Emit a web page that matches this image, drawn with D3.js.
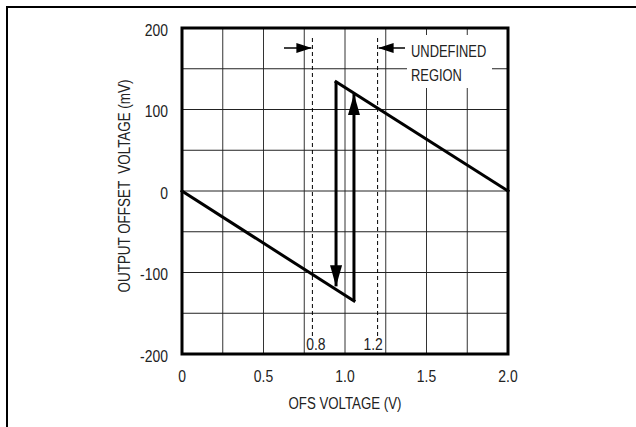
<!DOCTYPE html>
<html>
<head>
<meta charset="utf-8">
<script src="https://cdn.jsdelivr.net/npm/d3@7"></script>
<style>
  body { margin: 0; background: #fff; }
  text { font-family: "Liberation Sans", Arial, sans-serif; fill: #222; font-size: 17px; }
</style>
</head>
<body>
<svg width="636" height="427"></svg>
<script>
// data
let xTicks = [0, 0.5, 1.0, 1.5, 2.0]
let yTicks = [-200, -100, 0, 100, 200]
let xGrid = [0.25, 0.5, 0.75, 1.0, 1.25, 1.5, 1.75]
let yGrid = [-150, -100, -50, 0, 50, 100, 150]
let lowerBranch = [[0, 0], [1.055, -135]]
let upperBranch = [[0.945, 134], [2.0, 0]]
let riseLine = [[1.055, -135], [1.055, 119]]
let fallLine = [[0.945, 134], [0.945, -117]]
let limits = [0.8, 1.2]
let limitLabels = ['0.8', '1.2']

let svg = d3.select('svg')

let plotLeft = 182, plotRight = 508, plotTop = 28, plotBottom = 354

let xScale = d3.scaleLinear().domain([0, 2]).range([plotLeft, plotRight])
let yScale = d3.scaleLinear().domain([-200, 200]).range([plotBottom, plotTop])

// narrow text: no condensed face installed, so squeeze Liberation Sans
let label = (parent, str, x, y, anchor, sx, rot) => {
    return parent.append('text')
       .text(str)
       .attr('text-anchor', anchor)
       .attr('transform', 'translate(' + x + ',' + y + ')' + (rot ? ' rotate(' + rot + ')' : '') + ' scale(' + sx + ',1)')
       .style('white-space', 'pre')
}

// outer frame (top and left edges only visible)
svg.append('path')
   .attr('d', 'M7,427 L7,7 L636,7')
   .attr('fill', 'none')
   .attr('stroke', '#000')
   .attr('stroke-width', 2)

// grid
svg.selectAll('.vgrid')
   .data(xGrid)
   .enter()
   .append('line')
   .attr('x1', d => xScale(d)).attr('x2', d => xScale(d))
   .attr('y1', plotTop).attr('y2', plotBottom)
   .attr('stroke', '#333')
   .attr('stroke-width', 1)

svg.selectAll('.hgrid')
   .data(yGrid)
   .enter()
   .append('line')
   .attr('x1', plotLeft).attr('x2', plotRight)
   .attr('y1', d => yScale(d)).attr('y2', d => yScale(d))
   .attr('stroke', '#222')
   .attr('stroke-width', 1)

// white box behind the region note
svg.append('rect')
   .attr('x', 407).attr('y', 35)
   .attr('width', 85).attr('height', 53)
   .attr('fill', '#fff')

// dashed limits
svg.selectAll('.limit')
   .data(limits)
   .enter()
   .append('line')
   .attr('x1', d => xScale(d)).attr('x2', d => xScale(d))
   .attr('y1', plotTop + 10).attr('y2', plotBottom - 16)
   .attr('stroke', '#000')
   .attr('stroke-width', 1)
   .attr('stroke-dasharray', '4,3')

label(svg, limitLabels[0], xScale(0.75) + 2, plotBottom - 4, 'start', 0.82)
label(svg, limitLabels[1], xScale(1.25) - 3, plotBottom - 4, 'end', 0.82)

// arrowhead markers
let defs = svg.append('defs')
defs.append('marker')
    .attr('id', 'small')
    .attr('viewBox', '0 0 15 10')
    .attr('refX', 15).attr('refY', 5)
    .attr('markerWidth', 15).attr('markerHeight', 10)
    .attr('markerUnits', 'userSpaceOnUse')
    .attr('orient', 'auto')
    .append('path')
    .attr('d', 'M0,0 L15,5 L0,10 Z')
    .attr('fill', '#000')

defs.append('marker')
    .attr('id', 'big')
    .attr('viewBox', '0 0 21 12')
    .attr('refX', 21).attr('refY', 6)
    .attr('markerWidth', 21).attr('markerHeight', 12)
    .attr('markerUnits', 'userSpaceOnUse')
    .attr('orient', 'auto')
    .append('path')
    .attr('d', 'M0,0 L21,6 L0,12 Z')
    .attr('fill', '#000')

// undefined region arrows
svg.append('line')
   .attr('x1', 284).attr('x2', xScale(limits[0]) - 1)
   .attr('y1', 48).attr('y2', 48)
   .attr('stroke', '#000').attr('stroke-width', 1.5)
   .attr('marker-end', 'url(#small)')

svg.append('line')
   .attr('x1', 405).attr('x2', xScale(limits[1]) + 1)
   .attr('y1', 48).attr('y2', 48)
   .attr('stroke', '#000').attr('stroke-width', 1.5)
   .attr('marker-end', 'url(#small)')

label(svg, 'UNDEFINED', 411, 57, 'start', 0.76)
label(svg, 'REGION', 411, 80.5, 'start', 0.76)

// transfer curve
let line = d3.line().x(d => xScale(d[0])).y(d => yScale(d[1]))

svg.selectAll('.branch')
   .data([lowerBranch, upperBranch])
   .enter()
   .append('path')
   .attr('d', line)
   .attr('fill', 'none')
   .attr('stroke', '#000')
   .attr('stroke-width', 3)
   .attr('stroke-linecap', 'square')

svg.selectAll('.jump')
   .data([riseLine, fallLine])
   .enter()
   .append('path')
   .attr('d', line)
   .attr('fill', 'none')
   .attr('stroke', '#000')
   .attr('stroke-width', 3)
   .attr('marker-end', 'url(#big)')

// plot border
svg.append('rect')
   .attr('x', plotLeft).attr('y', plotTop)
   .attr('width', plotRight - plotLeft).attr('height', plotBottom - plotTop)
   .attr('fill', 'none')
   .attr('stroke', '#000')
   .attr('stroke-width', 3)

// tick labels
xTicks.forEach(d => {
    label(svg, d === 0 ? '0' : d3.format('.1f')(d), xScale(d), 382, 'middle', 0.82)
})

yTicks.forEach(d => {
    label(svg, String(d), 168, yScale(d) + 7.5, 'end', 0.82)
})

// axis titles
label(svg, 'OFS VOLTAGE (V)', 345, 408.5, 'middle', 0.78)
label(svg, 'OUTPUT OFFSET  VOLTAGE (mV)', 130, 186, 'middle', 0.79, -90)
</script>
</body>
</html>
